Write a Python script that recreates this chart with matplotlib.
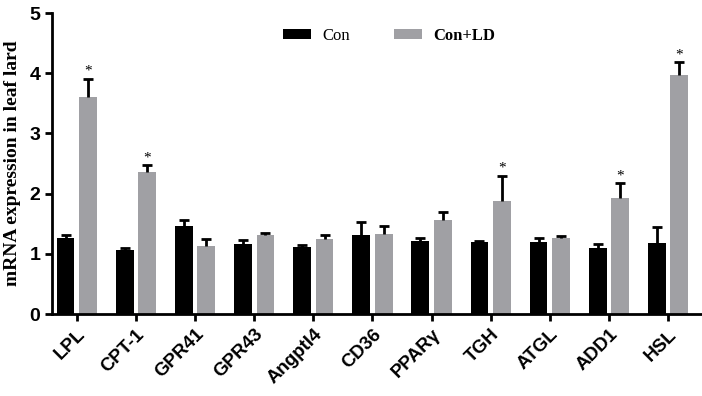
import matplotlib
matplotlib.use("Agg")
import matplotlib.pyplot as plt
import numpy as np

genes = ["LPL", "CPT-1", "GPR41", "GPR43", "Angptl4", "CD36", "PPARγ", "TGH", "ATGL", "ADD1", "HSL"]
con = [1.26, 1.06, 1.46, 1.17, 1.11, 1.32, 1.22, 1.20, 1.20, 1.09, 1.18]
con_err = [0.05, 0.04, 0.10, 0.06, 0.03, 0.21, 0.04, 0.02, 0.07, 0.07, 0.27]
ld = [3.60, 2.36, 1.13, 1.32, 1.25, 1.33, 1.56, 1.87, 1.27, 1.92, 3.97]
ld_err = [0.31, 0.11, 0.12, 0.02, 0.07, 0.13, 0.14, 0.43, 0.03, 0.25, 0.21]
significant = [True, True, False, False, False, False, False, True, False, True, True]

fig = plt.figure(figsize=(7.02, 3.96), dpi=100)
ax = fig.add_axes([0.074, 0.207, 0.924, 0.76])

x = np.arange(len(genes))
w = 0.30
off = 0.19
black = "#000000"
grey = "#a0a0a4"
ax.bar(x - off, con, w, color=black, label="Con", zorder=2)
ax.bar(x + off, ld, w, color=grey, label="Con+LD", zorder=2)


def upper_err(xs, ys, es):
    xs = np.asarray(xs)
    ys = np.asarray(ys)
    tops = ys + np.asarray(es)
    ax.vlines(xs, ys, tops, color="black", linewidth=2, zorder=3)
    ax.plot(xs, tops, linestyle="none", marker="_", markersize=7, markeredgewidth=2,
            color="black", zorder=3)


upper_err(x - off, con, con_err)
upper_err(x + off, ld, ld_err)
for i, s in enumerate(significant):
    if s:
        ax.text(x[i] + off, ld[i] + ld_err[i] + 0.02, "*", ha="center", va="bottom",
                fontsize=11, family="Liberation Serif")

ax.set_xlim(-0.42, len(genes) - 1 + 0.55)
ax.set_ylim(0, 5)
ax.set_yticks(range(6))
ax.set_xticks(x)
ax.set_xticklabels(genes, rotation=45, ha="right", rotation_mode="anchor",
                   fontsize=13.5, fontweight="bold", family="Liberation Sans")
for lab in ax.get_yticklabels():
    lab.set_fontsize(14)
    lab.set_fontweight("bold")
    lab.set_family("Liberation Sans")
for sp in ["top", "right"]:
    ax.spines[sp].set_visible(False)
for sp in ["left", "bottom"]:
    ax.spines[sp].set_linewidth(2)
ax.tick_params(axis="both", width=2, length=5, direction="out")
ax.set_ylabel("mRNA expression in leaf lard", fontsize=14, fontweight="bold",
              family="Liberation Serif", labelpad=6)

leg = ax.legend(loc="upper center", bbox_to_anchor=(0.52, 1.0), ncol=2, frameon=False,
                prop={"family": "Liberation Serif", "size": 12},
                handlelength=1.7, handleheight=0.6, handletextpad=0.7, columnspacing=2.6)
leg.get_texts()[1].set_fontweight("bold")

fig.savefig("out.png", dpi=100)
